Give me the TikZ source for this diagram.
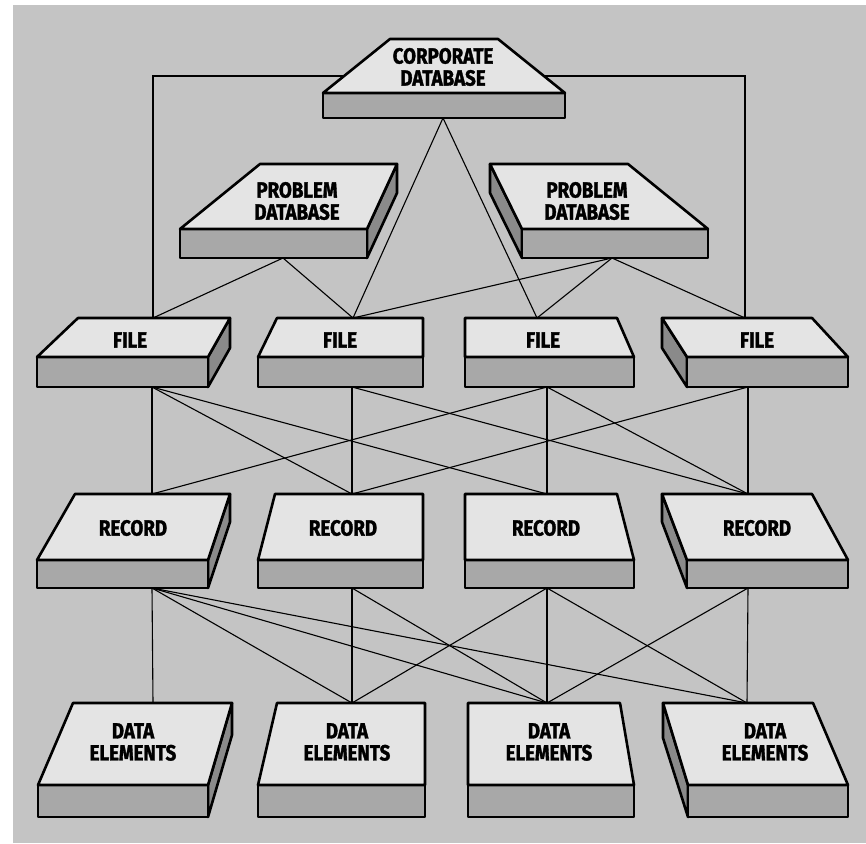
\documentclass[tikz,border=0pt]{standalone}
\usepackage{fontspec}
\newfontfamily\lblfont{Fira Sans}[FakeStretch=0.85,FakeBold=1.5]
\definecolor{bgc}{HTML}{C4C4C4}
\definecolor{topc}{HTML}{E4E4E4}
\definecolor{frontc}{HTML}{A8A8A8}
\definecolor{sidec}{HTML}{8A8A8A}
\begin{document}
\begin{tikzpicture}[x=1pt,y=-1pt,
  conn/.style={line width=1.1pt,black},
  facebase/.style={draw=black,line width=2.6pt,line join=round},
  topf/.style={facebase,fill=topc},
  frontf/.style={facebase,fill=frontc},
  sidef/.style={facebase,fill=sidec},
  lbl/.style={font=\lblfont\bfseries\fontsize{22}{22}\selectfont,align=center,inner sep=0pt}]
\useasboundingbox (0,0) rectangle (866,843);
\fill[white] (0,0) rectangle (866,843);
\fill[bgc] (13,5) rectangle (866,843);
% junction coordinates
\coordinate (corp-b) at (443,118);
\coordinate (corp-l) at (350,76);
\coordinate (corp-r) at (540,76);
\coordinate (cl) at (153,76);
\coordinate (cr) at (745,76);
\coordinate (pdb1-b) at (283,258);
\coordinate (pdb2-b) at (612,258);
\coordinate (f1-t) at (153,318);
\coordinate (f2-t) at (353,318);
\coordinate (f3-t) at (537,318);
\coordinate (f4-t) at (745,318);
\coordinate (f1-b) at (152,387);
\coordinate (f2-b) at (352,387);
\coordinate (f3-b) at (547,387);
\coordinate (f4-b) at (748,387);
\coordinate (r1-t) at (152,494);
\coordinate (r2-t) at (352,494);
\coordinate (r3-t) at (547,494);
\coordinate (r4-t) at (748,494);
\coordinate (r1-b) at (152,588);
\coordinate (r2-b) at (352,588);
\coordinate (r3-b) at (547,588);
\coordinate (r4-b) at (748,588);
\coordinate (d1-t) at (153,703);
\coordinate (d2-t) at (352,703);
\coordinate (d3-t) at (547,703);
\coordinate (d4-t) at (747,703);
% connectors
\draw[conn] (corp-l) -- (cl) -- (f1-t);
\draw[conn] (corp-r) -- (cr) -- (f4-t);
\draw[conn] (corp-b) -- (f2-t);
\draw[conn] (corp-b) -- (f3-t);
\draw[conn] (pdb1-b) -- (f1-t);
\draw[conn] (pdb1-b) -- (f2-t);
\draw[conn] (pdb2-b) -- (f2-t);
\draw[conn] (pdb2-b) -- (f3-t);
\draw[conn] (pdb2-b) -- (f4-t);
\foreach \a/\b in {f1/r1,f1/r2,f1/r3,f2/r2,f2/r4,f3/r1,f3/r3,f3/r4,f4/r2,f4/r4}
  \draw[conn] (\a-b) -- (\b-t);
\foreach \a/\b in {r1/d1,r1/d2,r1/d3,r1/d4,r2/d2,r2/d3,r3/d2,r3/d3,r3/d4,r4/d3,r4/d4}
  \draw[conn] (\a-b) -- (\b-t);
% corporate database
\draw[frontf] (323,93) rectangle (565,118);
\draw[topf] (390,39) -- (498,39) -- (565,93) -- (323,93) -- cycle;
\node[lbl] (corp) at (443,67) {CORPORATE\\DATABASE};
% problem databases
\draw[sidef] (397,164) -- (397,193) -- (367,258) -- (367,229) -- cycle;
\draw[frontf] (180,229) rectangle (367,258);
\draw[topf] (260,164) -- (397,164) -- (367,229) -- (180,229) -- cycle;
\node[lbl] (pdb1) at (297,201) {PROBLEM\\DATABASE};
\draw[sidef] (490,164) -- (490,193) -- (522,258) -- (522,229) -- cycle;
\draw[frontf] (522,229) rectangle (708,258);
\draw[topf] (490,164) -- (628,164) -- (708,229) -- (522,229) -- cycle;
\node[lbl] (pdb2) at (587,201) {PROBLEM\\DATABASE};
% files
\draw[sidef] (230,318) -- (230,348) -- (208,387) -- (208,357) -- cycle;
\draw[frontf] (37,357) rectangle (208,387);
\draw[topf] (78,318) -- (230,318) -- (208,357) -- (37,357) -- cycle;
\node[lbl] (file1) at (130,340) {FILE};
\draw[frontf] (258,357) rectangle (423,387);
\draw[topf] (277,318) -- (423,318) -- (423,357) -- (258,357) -- cycle;
\node[lbl] (file2) at (340,340) {FILE};
\draw[frontf] (465,357) rectangle (634,387);
\draw[topf] (465,318) -- (617,318) -- (634,357) -- (465,357) -- cycle;
\node[lbl] (file3) at (543,340) {FILE};
\draw[sidef] (662,318) -- (662,348) -- (687,387) -- (687,357) -- cycle;
\draw[frontf] (687,357) rectangle (848,387);
\draw[topf] (662,318) -- (812,318) -- (848,357) -- (687,357) -- cycle;
\node[lbl] (file4) at (757,340) {FILE};
% records
\draw[sidef] (230,494) -- (230,522) -- (208,588) -- (208,560) -- cycle;
\draw[frontf] (37,560) rectangle (208,588);
\draw[topf] (75,494) -- (230,494) -- (208,560) -- (37,560) -- cycle;
\node[lbl] (rec1) at (133,528) {RECORD};
\draw[frontf] (258,560) rectangle (423,588);
\draw[topf] (275,494) -- (423,494) -- (423,560) -- (258,560) -- cycle;
\node[lbl] (rec2) at (343,528) {RECORD};
\draw[frontf] (465,560) rectangle (634,588);
\draw[topf] (465,494) -- (617,494) -- (634,560) -- (465,560) -- cycle;
\node[lbl] (rec3) at (546,528) {RECORD};
\draw[sidef] (662,494) -- (662,522) -- (687,588) -- (687,560) -- cycle;
\draw[frontf] (687,560) rectangle (848,588);
\draw[topf] (662,494) -- (812,494) -- (848,560) -- (687,560) -- cycle;
\node[lbl] (rec4) at (757,528) {RECORD};
% data elements
\draw[sidef] (232,703) -- (232,735) -- (208,817) -- (208,785) -- cycle;
\draw[frontf] (38,785) rectangle (208,817);
\draw[topf] (73,703) -- (232,703) -- (208,785) -- (38,785) -- cycle;
\node[lbl] (data1) at (133,742) {DATA\\ELEMENTS};
\draw[frontf] (258,785) rectangle (425,817);
\draw[topf] (277,703) -- (425,703) -- (425,785) -- (258,785) -- cycle;
\node[lbl] (data2) at (347,742) {DATA\\ELEMENTS};
\draw[frontf] (468,785) rectangle (634,817);
\draw[topf] (468,703) -- (620,703) -- (634,785) -- (468,785) -- cycle;
\node[lbl] (data3) at (549,742) {DATA\\ELEMENTS};
\draw[sidef] (663,703) -- (663,738) -- (688,817) -- (688,785) -- cycle;
\draw[frontf] (688,785) rectangle (848,817);
\draw[topf] (663,703) -- (813,703) -- (848,785) -- (688,785) -- cycle;
\node[lbl] (data4) at (765,742) {DATA\\ELEMENTS};
\end{tikzpicture}
\end{document}
